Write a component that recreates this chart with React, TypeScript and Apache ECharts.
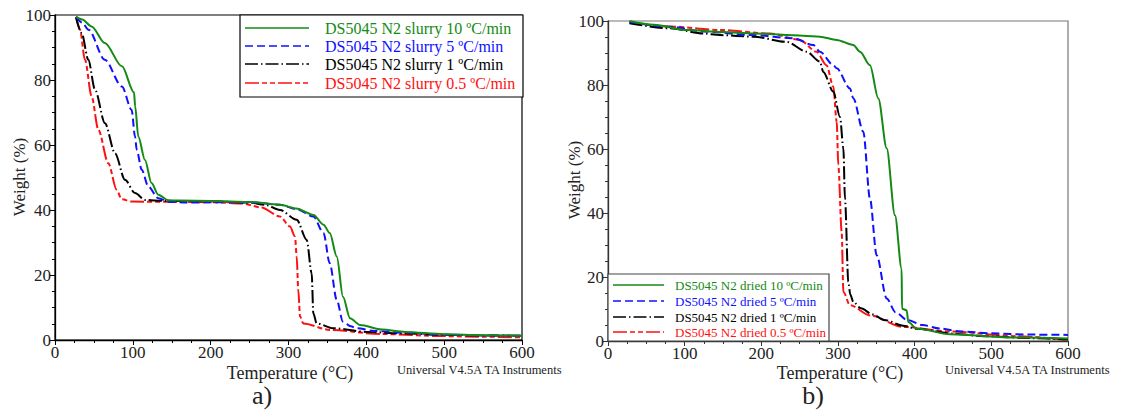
import React, { useEffect, useRef } from "react";
import * as echarts from "echarts";

// ---- Panel a) slurry ----
const T_A10 = [27, 35, 47, 64, 86, 101.5, 103, 107, 115.6, 124, 132.7, 145.6, 160, 200, 250, 289, 310, 332, 345, 353, 362, 370, 379, 392, 420, 450, 500, 550, 600];
const W_A10 = [99.5, 98.6, 96.5, 91.4, 84.2, 76.2, 71.9, 62.6, 55.4, 48.3, 44.7, 43.0, 42.9, 42.8, 42.5, 41.6, 40.5, 38.5, 35.5, 32.9, 25.7, 13.3, 6.7, 4.6, 3.2, 2.5, 1.8, 1.5, 1.3];
const T_A5 = [27, 35, 43, 64, 86, 98.5, 102.8, 105, 111.4, 120, 132.7, 147, 170, 220, 260, 289, 310, 332, 345, 353, 362, 370, 380, 388, 410, 450, 500, 550, 600];
const W_A5 = [99.4, 97.6, 95.5, 86.2, 78, 70.8, 62.6, 58.5, 52.4, 47.2, 43.6, 42.5, 42.3, 42.4, 42.2, 41.6, 40.3, 38, 32.9, 23.6, 12.3, 5.6, 4.2, 3.6, 2.8, 2.2, 1.6, 1.4, 1.3];
const T_A1 = [27, 34.3, 42.8, 51.4, 64.2, 77.1, 89.9, 102.8, 115.6, 140, 200, 250, 270, 289, 310.5, 323.4, 329.8, 331.9, 336.2, 357.6, 400, 450, 500, 550, 600];
const W_A1 = [99.4, 94.4, 86.2, 77, 66.7, 57.5, 49.3, 45.2, 43.1, 42.8, 42.7, 42.3, 41.6, 40, 37, 30.8, 20.5, 8.2, 5.1, 3.6, 2.5, 2.0, 1.6, 1.4, 1.3];
const T_A05 = [27, 32.1, 38.5, 47.1, 55.7, 68.5, 79.2, 85.7, 98.5, 150, 200, 240, 265, 289, 301.9, 308.4, 310.5, 312.6, 314.8, 319, 353.3, 417.6, 500, 550, 600];
const W_A05 = [99.2, 95.5, 86.2, 74.9, 64.7, 54.4, 46.2, 43.3, 42.6, 42.5, 42.4, 42.0, 40.8, 38, 34.9, 31.8, 25.7, 15.4, 7.2, 5.1, 3.1, 1.85, 1.2, 1.0, 0.8];

// ---- Panel b) dried ----
const T_B10 = [28, 60, 102.6, 150, 189.5, 254.7, 276.5, 298.3, 320, 328.7, 341.7, 352.6, 363.5, 374.3, 383, 383.5, 389.6, 391.7, 402.6, 446, 533, 600];
const W_B10 = [100, 98.8, 97.2, 96.6, 96.1, 95.4, 95.1, 94.1, 92.5, 90.4, 86.2, 75.8, 60.2, 39.3, 22.6, 10.1, 9.6, 5.9, 3.9, 2.1, 1.06, 0.8];
const T_B5 = [28, 80.9, 124.3, 189.5, 241.7, 267.8, 276.5, 293.9, 298.3, 315.6, 320, 333, 341.7, 350.4, 363.5, 375, 390, 410, 433, 460, 500, 550, 600];
const W_B5 = [99.7, 98.2, 96.7, 95.6, 94.6, 92.5, 90.4, 86.2, 85.2, 78.9, 75.8, 65.4, 44.5, 26.8, 13.3, 9.0, 6.6, 5.0, 3.9, 3.0, 2.4, 2.0, 1.9];
const T_B1 = [28, 80.9, 124.3, 146, 189.5, 233, 259, 276.5, 280.8, 293.9, 302.6, 307, 309.1, 313.5, 316, 320, 330, 345, 360, 385, 403, 450, 490, 550, 600];
const W_B1 = [99.3, 97.7, 96.1, 95.6, 95.1, 93.5, 90.4, 87.3, 84.1, 77.9, 70, 60.2, 44.5, 18.5, 14.5, 12.2, 10.2, 8.3, 6.6, 4.8, 3.8, 2.3, 1.5, 0.9, 0.5];
const T_B05 = [28, 80, 146, 211, 250, 272, 285, 293.9, 298.3, 300.4, 304.8, 307, 315.6, 341.7, 385, 446, 533, 600];
const W_B05 = [99.5, 98.3, 97.2, 96.1, 94.1, 90.4, 86.2, 79.5, 68.5, 55, 34.1, 15.3, 11.2, 8, 4.4, 3.0, 1.5, 0.3];

const X_TICKS = [0, 100, 200, 300, 400, 500, 600];
const Y_TICKS = [0, 20, 40, 60, 80, 100];

const NAMES_A = [
  "DS5045 N2 slurry 10 ºC/min",
  "DS5045 N2 slurry 5 ºC/min",
  "DS5045 N2 slurry 1 ºC/min",
  "DS5045 N2 slurry 0.5 ºC/min",
];
const NAMES_B = [
  "DS5045 N2 dried 10 ºC/min",
  "DS5045 N2 dried 5 ºC/min",
  "DS5045 N2 dried 1 ºC/min",
  "DS5045 N2 dried 0.5 ºC/min",
];

const COLORS = ["#148a14", "#1010ff", "#000000", "#ff1010"];
const DASHES: any[] = ["solid", [8, 4], [13, 3, 1.5, 3], [14, 3, 5, 3, 5, 3]];
const FONT = "Liberation Serif, Times New Roman, serif";

const zip = (t: number[], w: number[]) => t.map((x, i) => [x, w[i]]);

export default function App() {
  const ref = useRef<HTMLDivElement>(null);
  useEffect(() => {
    if (!ref.current) return;
    const chart = echarts.init(ref.current, undefined, { renderer: "svg" });

    const panelA = [zip(T_A10, W_A10), zip(T_A5, W_A5), zip(T_A1, W_A1), zip(T_A05, W_A05)];
    const panelB = [zip(T_B10, W_B10), zip(T_B5, W_B5), zip(T_B1, W_B1), zip(T_B05, W_B05)];

    const mkX = (gi: number, frame: string) => ({
      type: "value",
      gridIndex: gi,
      min: X_TICKS[0],
      max: X_TICKS[X_TICKS.length - 1],
      interval: X_TICKS[1] - X_TICKS[0],
      splitLine: { show: false },
      axisLine: { show: true, onZero: false, lineStyle: { color: frame, width: 1.3 } },
      axisTick: { show: true, inside: false, length: 5, lineStyle: { color: frame } },
      minorTick: { show: true, splitNumber: 4, length: 3, lineStyle: { color: frame } },
      axisLabel: { color: "#222", fontFamily: FONT, fontSize: 17, margin: 4 },
    });
    const mkY = (gi: number, frame: string) => ({
      type: "value",
      gridIndex: gi,
      min: Y_TICKS[0],
      max: Y_TICKS[Y_TICKS.length - 1],
      interval: Y_TICKS[1] - Y_TICKS[0],
      splitLine: { show: false },
      axisLine: { show: true, onZero: false, lineStyle: { color: frame, width: 1.3 } },
      axisTick: { show: true, inside: false, length: 5, lineStyle: { color: frame } },
      minorTick: { show: true, splitNumber: 4, length: 3, lineStyle: { color: frame } },
      axisLabel: { color: "#222", fontFamily: FONT, fontSize: 17, margin: 4 },
    });

    const series: any[] = [];
    panelA.forEach((d, i) =>
      series.push({
        type: "line",
        name: NAMES_A[i],
        xAxisIndex: 0,
        yAxisIndex: 0,
        data: d,
        showSymbol: false,
        smooth: 0.3,
        smoothMonotone: "x",
        lineStyle: { color: COLORS[i], width: 2, type: DASHES[i] },
        z: 10 - i,
      })
    );
    panelB.forEach((d, i) =>
      series.push({
        type: "line",
        name: NAMES_B[i],
        xAxisIndex: 1,
        yAxisIndex: 1,
        data: d,
        showSymbol: false,
        smooth: 0.3,
        smoothMonotone: "x",
        lineStyle: { color: COLORS[i], width: 2, type: DASHES[i] },
        z: 10 - i,
      })
    );

    const graphic: any[] = [];
    // legend a
    graphic.push({
      type: "rect",
      z: 100,
      shape: { x: 240, y: 15, width: 283, height: 82 },
      style: { fill: "#fff", stroke: "#000", lineWidth: 1.2 },
    });
    [28, 46, 64, 83].forEach((y, i) => {
      graphic.push({
        type: "line",
        z: 101,
        shape: { x1: 245, y1: y, x2: 309, y2: y },
        style: { stroke: COLORS[i], lineWidth: 1.6, lineDash: DASHES[i] === "solid" ? null : DASHES[i] },
      });
      graphic.push({
        type: "text",
        z: 101,
        x: 325,
        y: y,
        style: { text: NAMES_A[i], fill: COLORS[i], font: `16px ${FONT}`, verticalAlign: "middle", align: "left" },
      });
    });
    // legend b
    graphic.push({
      type: "rect",
      z: 100,
      shape: { x: 608, y: 274, width: 221, height: 67 },
      style: { fill: "#fff", stroke: "#444", lineWidth: 1.2 },
    });
    [285, 301, 317, 332].forEach((y, i) => {
      graphic.push({
        type: "line",
        z: 101,
        shape: { x1: 613, y1: y, x2: 664, y2: y },
        style: { stroke: COLORS[i], lineWidth: 1.4, lineDash: DASHES[i] === "solid" ? null : DASHES[i] },
      });
      graphic.push({
        type: "text",
        z: 101,
        x: 675,
        y: y,
        style: { text: NAMES_B[i], fill: COLORS[i], font: `13px ${FONT}`, verticalAlign: "middle", align: "left" },
      });
    });
    // axis titles & captions
    const txt = (text: string, x: number, y: number, size: number, rot = 0, align = "center") => ({
      type: "text",
      z: 101,
      x,
      y,
      rotation: rot,
      style: { text, fill: "#222", font: `${size}px ${FONT}`, align, verticalAlign: "middle" },
    });
    graphic.push(txt("Weight (%)", 19, 177, 17, Math.PI / 2));
    graphic.push(txt("Weight (%)", 574, 180, 17, Math.PI / 2));
    graphic.push(txt("Temperature (°C)", 290, 373, 18));
    graphic.push(txt("Temperature (°C)", 840, 373, 18));
    graphic.push(txt("Universal V4.5A TA Instruments", 397, 370, 12.5, 0, "left"));
    graphic.push(txt("Universal V4.5A TA Instruments", 945, 370, 12.5, 0, "left"));
    graphic.push(txt("a)", 262, 395, 26));
    graphic.push(txt("b)", 813, 395, 26));

    chart.setOption({
      animation: false,
      backgroundColor: "#fff",
      grid: [
        { left: 55, top: 15, width: 467, height: 325, show: true, borderColor: "#000", borderWidth: 1.2, backgroundColor: "transparent" },
        { left: 608, top: 21, width: 460, height: 320, show: true, borderColor: "#777", borderWidth: 1.2, backgroundColor: "transparent" },
      ],
      xAxis: [mkX(0, "#000"), mkX(1, "#333")],
      yAxis: [mkY(0, "#000"), mkY(1, "#333")],
      series,
      graphic,
    });
    return () => chart.dispose();
  }, []);
  return (
    <div
      ref={ref}
      style={{ position: "fixed", left: 0, top: 0, width: 1130, height: 414, background: "#fff" }}
    />
  );
}
